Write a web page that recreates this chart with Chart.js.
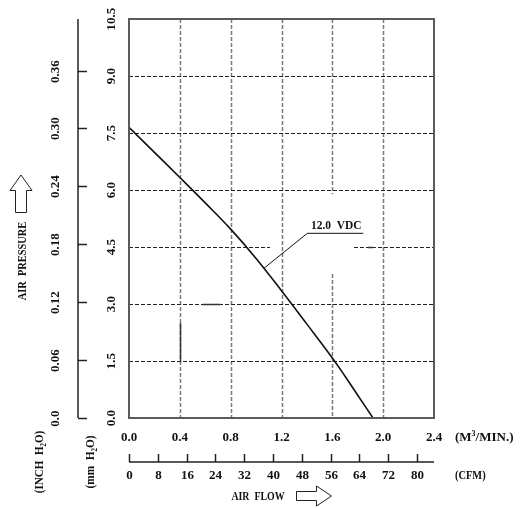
<!DOCTYPE html>
<html>
<head>
<meta charset="utf-8">
<script src="https://cdn.jsdelivr.net/npm/chart.js@4.4.0/dist/chart.umd.min.js"></script>
<style>
  html, body { margin: 0; padding: 0; background: #fff; }
  canvas { display: block; }
</style>
</head>
<body>
<canvas id="fanChart" width="524" height="508"></canvas>
<script>
// curve: air flow (m3/min) -> static pressure (mm H2O)
const airFlow  = [0, 0.2, 0.4, 0.6, 0.8, 1.0, 1.2, 1.4, 1.6, 1.7, 1.8, 1.92];
const pressure = [7.65, 6.99, 6.33, 5.66, 4.97, 4.2, 3.35, 2.47, 1.58, 1.1, 0.6, 0];

const flowTicks = [0, 0.4, 0.8, 1.2, 1.6, 2.0, 2.4];
const cfmTicks  = [0, 8, 16, 24, 32, 40, 48, 56, 64, 72, 80];
const mmTicks   = [0, 1.5, 3.0, 4.5, 6.0, 7.5, 9.0, 10.5];
const inchTicks = [0, 0.06, 0.12, 0.18, 0.24, 0.30, 0.36];

// leader line + name of the curve
const leaderFlow  = [1.062, 1.403, 1.843];
const leaderPress = [3.94, 4.86, 4.86];
const curveName = '12.0  VDC';

const CFM_PER_M3 = 35.3147;
const MM_PER_INCH = 25.4;
const NUM = 'bold 13px "Liberation Serif", serif';
const SMALL = 'bold 8px "Liberation Serif", serif';

// bits of grid left blank around the label (data units)
const hGaps = { '4.5': [1.11, 1.77] };
const vGaps = { '1.6': [3.79, 5.89] };
// darker solid bits on the grid of the scanned sheet
const hSolid = [[3.0, 0.58, 0.72], [4.5, 1.88, 1.92]];
const vSolid = [[0.4, 1.47, 2.5]];

// draws text pieces [text, font, dy]; rot = rotate -90deg, sq = horizontal squeeze (the sheet uses a narrow face)
function txt(ctx, parts, x, y, opts) {
    const o = Object.assign({ rot: false, align: 'center', sq: 1 }, opts || {});
    ctx.save();
    ctx.translate(x, y);
    if (o.rot) ctx.rotate(-Math.PI / 2);
    ctx.scale(o.sq, 1);
    let w = 0;
    parts.forEach(p => { ctx.font = p[1]; w += ctx.measureText(p[0]).width; });
    let cx = o.align === 'center' ? -w / 2 : 0;
    ctx.textAlign = 'left';
    ctx.textBaseline = 'middle';
    parts.forEach(p => {
        ctx.font = p[1];
        ctx.fillText(p[0], cx, p[2]);
        cx += ctx.measureText(p[0]).width;
    });
    ctx.restore();
}

const sheetPlugin = {
    id: 'sheet',
    beforeDatasetsDraw(chart) {
        const { ctx, chartArea: a, scales: { x, y } } = chart;
        ctx.save();
        ctx.setLineDash([4, 2]);

        // vertical grid
        ctx.strokeStyle = '#7a7a7a';
        ctx.lineWidth = 1.5;
        flowTicks.slice(1, -1).forEach(v => {
            const px = Math.round(x.getPixelForValue(v)) + 0.5;
            const gap = vGaps[String(v)];
            const segs = gap ? [[a.top, y.getPixelForValue(gap[1])], [y.getPixelForValue(gap[0]), a.bottom]] : [[a.top, a.bottom]];
            segs.forEach(s => { ctx.beginPath(); ctx.moveTo(px, s[0]); ctx.lineTo(px, s[1]); ctx.stroke(); });
        });

        // horizontal grid
        ctx.strokeStyle = '#222';
        ctx.lineWidth = 1;
        mmTicks.slice(1, -1).forEach(v => {
            const py = Math.round(y.getPixelForValue(v)) + 0.5;
            const gap = hGaps[String(v)];
            const segs = gap ? [[a.left, x.getPixelForValue(gap[0])], [x.getPixelForValue(gap[1]), a.right]] : [[a.left, a.right]];
            segs.forEach(s => { ctx.beginPath(); ctx.moveTo(s[0], py); ctx.lineTo(s[1], py); ctx.stroke(); });
        });

        // solid bits
        ctx.setLineDash([]);
        ctx.strokeStyle = '#333';
        ctx.lineWidth = 1.5;
        hSolid.forEach(s => {
            const py = Math.round(y.getPixelForValue(s[0])) + 0.5;
            ctx.beginPath(); ctx.moveTo(x.getPixelForValue(s[1]), py); ctx.lineTo(x.getPixelForValue(s[2]), py); ctx.stroke();
        });
        vSolid.forEach(s => {
            const px = Math.round(x.getPixelForValue(s[0])) + 0.5;
            ctx.beginPath(); ctx.moveTo(px, y.getPixelForValue(s[1])); ctx.lineTo(px, y.getPixelForValue(s[2])); ctx.stroke();
        });
        ctx.restore();
    },
    afterDatasetsDraw(chart) {
        const { ctx, chartArea: a } = chart;
        ctx.save();
        ctx.strokeStyle = '#5a5a5a';
        ctx.lineWidth = 2;
        ctx.strokeRect(a.left, a.top, a.right - a.left, a.bottom - a.top);
        ctx.restore();
    },
    afterDraw(chart) {
        const { ctx, chartArea: a, scales: { x, y } } = chart;
        ctx.save();
        ctx.fillStyle = '#111';
        ctx.strokeStyle = '#222';

        // curve name above the leader
        const lx = (x.getPixelForValue(leaderFlow[1]) + x.getPixelForValue(leaderFlow[2])) / 2;
        txt(ctx, [[curveName, NUM, 0]], lx + 1, y.getPixelForValue(leaderPress[2]) - 8, { sq: 0.88 });

        // m3/min labels
        flowTicks.forEach(v => {
            txt(ctx, [[v.toFixed(1), NUM, 0]], x.getPixelForValue(v), a.bottom + 20);
        });
        txt(ctx, [['(M', NUM, 0], ['3', SMALL, -4], ['/MIN.)', NUM, 0]], a.right + 21, a.bottom + 20, { align: 'left' });

        // CFM axis
        const cy = a.bottom + 44;
        ctx.lineWidth = 1.5;
        ctx.beginPath();
        ctx.moveTo(x.getPixelForValue(0), cy);
        ctx.lineTo(a.right, cy);
        ctx.stroke();
        cfmTicks.forEach(c => {
            const px = Math.round(x.getPixelForValue(c / CFM_PER_M3)) + 0.5;
            ctx.beginPath();
            ctx.moveTo(px, cy);
            ctx.lineTo(px, cy - 8);
            ctx.stroke();
            txt(ctx, [[String(c), NUM, 0]], px, cy + 14);
        });
        txt(ctx, [['(CFM)', NUM, 0]], a.right + 21, cy + 14, { align: 'left', sq: 0.8 });

        // AIR FLOW + arrow
        txt(ctx, [['AIR  FLOW', NUM, 0]], 258, cy + 35, { sq: 0.76 });
        ctx.lineWidth = 1;
        ctx.beginPath();
        ctx.moveTo(296.5, 491.5); ctx.lineTo(316.5, 491.5); ctx.lineTo(316.5, 486);
        ctx.lineTo(331.5, 496); ctx.lineTo(316.5, 506); ctx.lineTo(316.5, 500.5);
        ctx.lineTo(296.5, 500.5); ctx.closePath();
        ctx.stroke();

        // inch axis
        const ix = a.left - 51;
        ctx.lineWidth = 1.5;
        ctx.beginPath();
        ctx.moveTo(ix, y.getPixelForValue(10.5));
        ctx.lineTo(ix, a.bottom);
        ctx.stroke();
        inchTicks.forEach(v => {
            const py = Math.round(y.getPixelForValue(v * MM_PER_INCH)) + 0.5;
            ctx.beginPath();
            ctx.moveTo(ix, py);
            ctx.lineTo(ix + 9, py);
            ctx.stroke();
            txt(ctx, [[v.toFixed(2).replace(/^0\.00$/, '0.0'), NUM, 0]], 56, py, { rot: true });
        });

        // mm labels
        mmTicks.forEach(v => {
            txt(ctx, [[v.toFixed(1), NUM, 0]], 112, y.getPixelForValue(v), { rot: true });
        });

        // axis names on the left
        txt(ctx, [['(INCH  H', NUM, 0], ['2', SMALL, 4], ['O)', NUM, 0]], 40, 462, { rot: true, sq: 0.85 });
        txt(ctx, [['(mm  H', NUM, 0], ['2', SMALL, 4], ['O)', NUM, 0]], 91, 462, { rot: true, sq: 0.87 });
        txt(ctx, [['AIR  PRESSURE', NUM, 0]], 23, 261, { rot: true, sq: 0.8 });

        // up arrow
        ctx.lineWidth = 1;
        ctx.beginPath();
        ctx.moveTo(15.5, 212.5); ctx.lineTo(15.5, 190.5); ctx.lineTo(10, 190.5);
        ctx.lineTo(21, 175); ctx.lineTo(32, 190.5); ctx.lineTo(26.5, 190.5);
        ctx.lineTo(26.5, 212.5); ctx.closePath();
        ctx.stroke();

        ctx.restore();
    }
};

function initChart() {
    const ctx = document.getElementById('fanChart').getContext('2d');
    new Chart(ctx, {
        type: 'scatter',
        data: {
            datasets: [
                {
                    data: airFlow.map((f, i) => ({ x: f, y: pressure[i] })),
                    showLine: true, borderColor: '#111', borderWidth: 1.6,
                    pointRadius: 0, tension: 0.4
                },
                {
                    data: leaderFlow.map((f, i) => ({ x: f, y: leaderPress[i] })),
                    showLine: true, borderColor: '#111', borderWidth: 1,
                    pointRadius: 0
                }
            ]
        },
        options: {
            responsive: false,
            animation: false,
            layout: { padding: { left: 129, top: 19, right: 90, bottom: 90 } },
            plugins: { legend: { display: false }, tooltip: { enabled: false } },
            scales: {
                x: { type: 'linear', min: 0, max: 2.4, display: false },
                y: { type: 'linear', min: 0, max: 10.5, display: false }
            }
        },
        plugins: [sheetPlugin]
    });
}

window.onload = initChart;
</script>
</body>
</html>
